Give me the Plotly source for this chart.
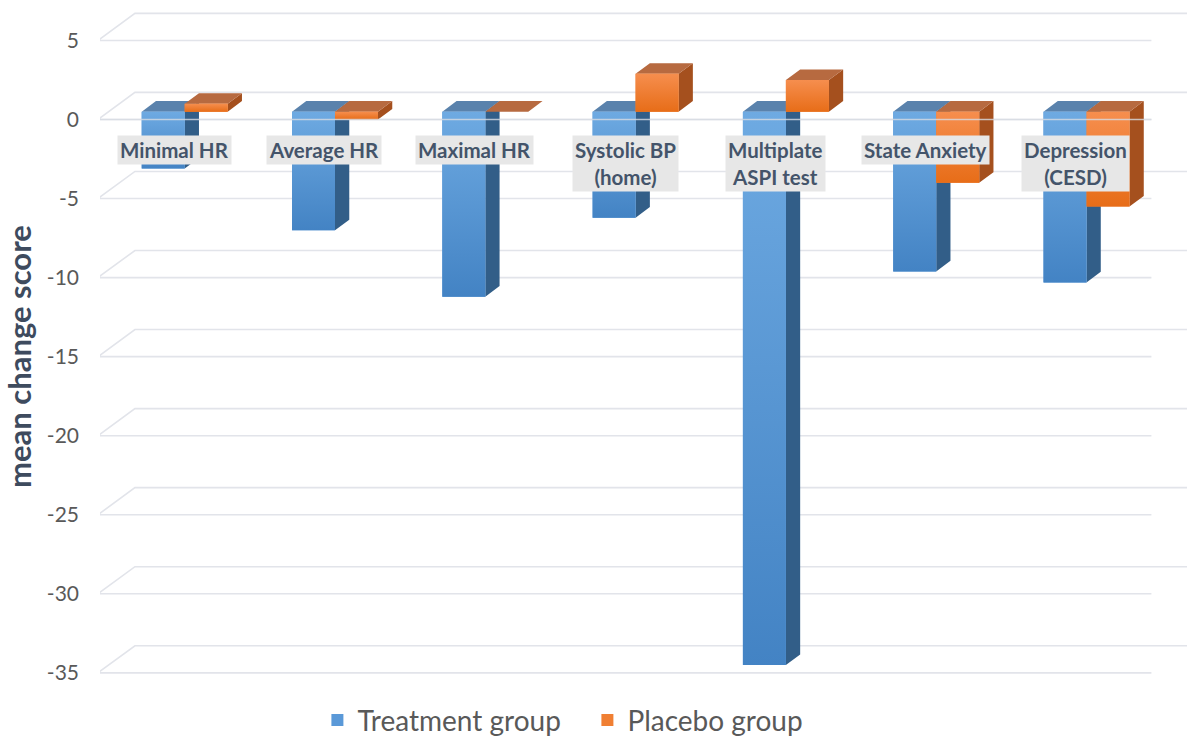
import plotly.graph_objects as go

categories = ["Minimal HR", "Average HR", "Maximal HR", "Systolic BP<br>(home)",
              "Multiplate<br>ASPI test", "State Anxiety", "Depression<br>(CESD)"]
treatment = [-3.6, -7.5, -11.7, -6.7, -35.0, -10.1, -10.8]
placebo = [0.5, -0.5, 0.0, 2.4, 2.0, -4.5, -6.0]
tick_values = [5, 0, -5, -10, -15, -20, -25, -30, -35]
tick_labels = ["5", "0", "-5", "-10", "-15", "-20", "-25", "-30", "-35"]

# geometry of the pseudo-3D view (in axis units)
BAR_W = 0.286          # width of one bar (category units)
DX, DY = 0.095, 0.67   # depth offset of bar back faces
FRONT_OFF = 0.493      # bar plane sits this far above the front grid plane
BACK_OFF = 1.714       # back grid plane above the front grid plane
GRID_FL, GRID_FR = -0.577, 6.432
GRID_BL, GRID_BR = -0.331, 6.9

X_RANGE = [-0.5635, 6.6687]
Y_FRONT = [-36.717, 7.558]
Y_BAR = [Y_FRONT[0] - FRONT_OFF, Y_FRONT[1] - FRONT_OFF]

BLUE, BLUE_LIGHT, BLUE_DARK = "#5A99D8", "#6EAAE2", "#4383C4"
BLUE_SIDE, BLUE_TOP = "#325E88", "#5A82AC"
ORANGE, ORANGE_LIGHT, ORANGE_DARK = "#F07F33", "#F68E4E", "#E76D18"
ORANGE_SIDE, ORANGE_TOP = "#A5501E", "#B76A40"
GRID = "#E2E4EA"
TXT = "#44546A"

fig = go.Figure()

# ---- grid lines (front plane, left diagonal, back plane) ----
gx, gy = [], []
for v in tick_values:
    gx += [GRID_FR, GRID_FL, GRID_BL, GRID_BR, None]
    gy += [v, v, v + BACK_OFF, v + BACK_OFF, None]
fig.add_trace(go.Scatter(x=gx, y=gy, mode="lines", line=dict(color=GRID, width=1.6),
                         hoverinfo="skip", showlegend=False, xaxis="x", yaxis="y"))


def faces(values, offset_idx):
    sx, sy, tx, ty = [], [], [], []
    for i, v in enumerate(values):
        x0 = i - BAR_W + offset_idx * BAR_W
        x1 = x0 + BAR_W
        # right side face
        sx += [x1, x1 + DX, x1 + DX, x1, x1, None]
        sy += [0, DY, v + DY, v, 0, None]
        # top face
        t = max(v, 0)
        tx += [x0, x1, x1 + DX, x0 + DX, x0, None]
        ty += [t, t, t + DY, t + DY, t, None]
    return sx, sy, tx, ty


for vals, idx, cs, ct in [(treatment, 0, BLUE_SIDE, BLUE_TOP), (placebo, 1, ORANGE_SIDE, ORANGE_TOP)]:
    sx, sy, tx, ty = faces(vals, idx)
    fig.add_trace(go.Scatter(x=sx, y=sy, mode="lines", fill="toself", fillcolor=cs,
                             line=dict(width=0, color=cs), hoverinfo="skip", showlegend=False,
                             xaxis="x", yaxis="y2"))
    fig.add_trace(go.Scatter(x=tx, y=ty, mode="lines", fill="toself", fillcolor=ct,
                             line=dict(width=0, color=ct), hoverinfo="skip", showlegend=False,
                             xaxis="x", yaxis="y2"))

# ---- front faces: the bars ----
xs = list(range(len(categories)))
fig.add_trace(go.Bar(x=xs, y=treatment, name="Treatment group", marker=dict(color=BLUE, line=dict(width=0)),
                     xaxis="x", yaxis="y3"))
fig.add_trace(go.Bar(x=xs, y=placebo, name="Placebo group", marker=dict(color=ORANGE, line=dict(width=0)),
                     xaxis="x", yaxis="y3"))

# vertical shading of the bar front faces
for vals, idx, light, dark in [(treatment, 0, BLUE_LIGHT, BLUE_DARK), (placebo, 1, ORANGE_LIGHT, ORANGE_DARK)]:
    for i, v in enumerate(vals):
        if v == 0:
            continue
        x0 = i - BAR_W + idx * BAR_W
        x1 = x0 + BAR_W
        fig.add_trace(go.Scatter(x=[x0, x1, x1, x0, x0], y=[0, 0, v, v, 0], mode="lines",
                                 fill="toself", line=dict(width=0, color=light),
                                 fillgradient=dict(type="vertical",
                                                   colorscale=[[0, dark], [1, light]]),
                                 hoverinfo="skip", showlegend=False, xaxis="x", yaxis="y3"))

# front zero line drawn over the bars
fig.add_trace(go.Scatter(x=[GRID_FL, GRID_FR], y=[-FRONT_OFF, -FRONT_OFF], mode="lines",
                         line=dict(color="#D8DCE3", width=1.6), opacity=0.8,
                         hoverinfo="skip", showlegend=False, xaxis="x", yaxis="y3"))

# ---- category labels ----
for i, c in enumerate(categories):
    fig.add_annotation(x=i - 0.07, y=-0.98, xref="x", yref="y", text="<b>%s</b>" % c,
                       showarrow=False, yanchor="top", xanchor="center",
                       bgcolor="#E7E7E7", borderpad=2,
                       font=dict(family="Lato", size=20.5, color=TXT))

# y axis title
fig.add_annotation(x=-0.0745, y=0.49, xref="paper", yref="paper", text="<b>mean change score</b>",
                   textangle=-90, showarrow=False, xanchor="center", yanchor="middle",
                   font=dict(family="Lato", size=31, color="#3E4B5E"))

fig.update_layout(
    width=1187, height=738,
    margin=dict(l=100, r=0, t=0, b=38, autoexpand=False),
    paper_bgcolor="white", plot_bgcolor="white",
    barmode="group", bargap=0.428, bargroupgap=0,
    font=dict(family="Lato", color="#595959"),
    xaxis=dict(range=X_RANGE, visible=False, fixedrange=True),
    yaxis=dict(range=Y_FRONT, tickvals=tick_values, ticktext=tick_labels, showgrid=False,
               zeroline=False, showline=False, ticks="", ticklabelstandoff=20,
               tickfont=dict(family="Lato", size=21, color="#595959")),
    yaxis2=dict(range=Y_BAR, overlaying="y", visible=False),
    yaxis3=dict(range=Y_BAR, overlaying="y", visible=False),
    legend=dict(orientation="h", x=0.2, xanchor="left", y=-0.029, yanchor="middle",
                entrywidth=225, entrywidthmode="pixels",
                font=dict(family="Lato", size=28, color="#595959"), bgcolor="rgba(0,0,0,0)"),
    showlegend=True,
)

fig.write_html("out.html")
